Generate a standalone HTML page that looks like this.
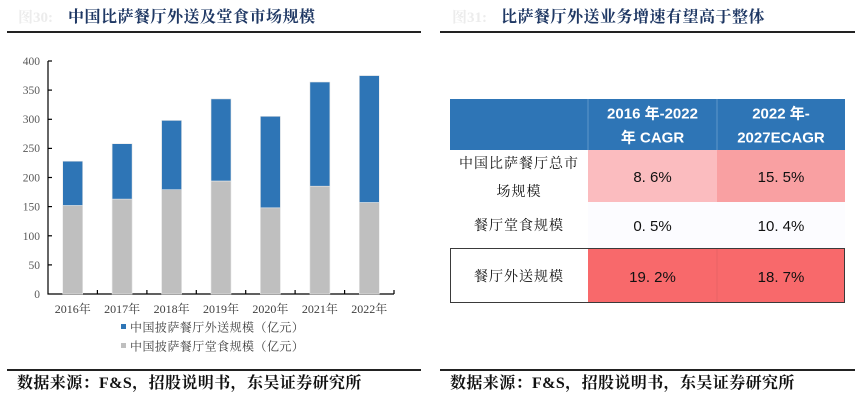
<!DOCTYPE html>
<html><head><meta charset="utf-8"><style>
html,body{margin:0;padding:0;background:#fff;}
svg{display:block;}
.ser{font-family:"Liberation Serif","Noto Serif CJK SC",serif;}
.sans{font-family:"Liberation Sans","Noto Sans CJK SC",sans-serif;}
</style></head><body>
<svg width="866" height="406" viewBox="0 0 866 406" xmlns="http://www.w3.org/2000/svg">
<!-- Left title -->
<text x="18" y="22" class="ser" font-size="15" fill="#ececec" font-weight="bold">图30:</text>
<text x="68" y="22" class="ser" font-size="16" fill="#1f3864" font-weight="bold" letter-spacing="0.5">中国比萨餐厅外送及堂食市场规模</text>
<rect x="7" y="31" width="414" height="2" fill="#222"/>
<!-- Right title -->
<text x="452" y="22" class="ser" font-size="15" fill="#ececec" font-weight="bold">图31:</text>
<text x="501" y="22" class="ser" font-size="16" fill="#1f3864" font-weight="bold" letter-spacing="0.5">比萨餐厅外送业务增速有望高于整体</text>
<rect x="440" y="31" width="415" height="2" fill="#222"/>

<!-- Left chart axes -->
<g stroke="#000" stroke-width="1.2" fill="none">
<line x1="48" y1="61" x2="48" y2="294.5"/>
<line x1="47.5" y1="294" x2="394" y2="294"/>
<line x1="48" y1="61" x2="52" y2="61"/>
<line x1="48" y1="90.1" x2="52" y2="90.1"/>
<line x1="48" y1="119.3" x2="52" y2="119.3"/>
<line x1="48" y1="148.4" x2="52" y2="148.4"/>
<line x1="48" y1="177.5" x2="52" y2="177.5"/>
<line x1="48" y1="206.6" x2="52" y2="206.6"/>
<line x1="48" y1="235.8" x2="52" y2="235.8"/>
<line x1="48" y1="264.9" x2="52" y2="264.9"/>
<line x1="97.4" y1="294" x2="97.4" y2="290"/>
<line x1="146.9" y1="294" x2="146.9" y2="290"/>
<line x1="196.3" y1="294" x2="196.3" y2="290"/>
<line x1="245.7" y1="294" x2="245.7" y2="290"/>
<line x1="295.1" y1="294" x2="295.1" y2="290"/>
<line x1="344.6" y1="294" x2="344.6" y2="290"/>
<line x1="394" y1="294" x2="394" y2="290"/>
</g>
<g class="ser" font-size="11.5" fill="#595959" text-anchor="end">
<text x="40" y="65">400</text>
<text x="40" y="94">350</text>
<text x="40" y="123">300</text>
<text x="40" y="152">250</text>
<text x="40" y="181.5">200</text>
<text x="40" y="210.5">150</text>
<text x="40" y="240">100</text>
<text x="40" y="269">50</text>
<text x="40" y="298">0</text>
</g>
<!-- bars -->
<g stroke="#e8e8e8" stroke-width="0.6">
<rect x="62.7" y="205.5" width="20" height="88.5" fill="#bfbfbf"/>
<rect x="62.7" y="161.2" width="20" height="44.3" fill="#2e75b6"/>
<rect x="112.1" y="199.1" width="20" height="94.9" fill="#bfbfbf"/>
<rect x="112.1" y="143.7" width="20" height="55.4" fill="#2e75b6"/>
<rect x="161.6" y="189.7" width="20" height="104.3" fill="#bfbfbf"/>
<rect x="161.6" y="120.4" width="20" height="69.3" fill="#2e75b6"/>
<rect x="211" y="181" width="20" height="113" fill="#bfbfbf"/>
<rect x="211" y="98.9" width="20" height="82.1" fill="#2e75b6"/>
<rect x="260.4" y="207.8" width="20" height="86.2" fill="#bfbfbf"/>
<rect x="260.4" y="116.3" width="20" height="91.5" fill="#2e75b6"/>
<rect x="309.9" y="186.2" width="20" height="107.8" fill="#bfbfbf"/>
<rect x="309.9" y="82" width="20" height="104.2" fill="#2e75b6"/>
<rect x="359.3" y="202.5" width="20" height="91.5" fill="#bfbfbf"/>
<rect x="359.3" y="75.6" width="20" height="126.9" fill="#2e75b6"/>
</g>
<g class="ser" font-size="12" fill="#404040" text-anchor="middle">
<text x="72.7" y="313">2016年</text>
<text x="122.1" y="313">2017年</text>
<text x="171.6" y="313">2018年</text>
<text x="221" y="313">2019年</text>
<text x="270.4" y="313">2020年</text>
<text x="319.9" y="313">2021年</text>
<text x="369.3" y="313">2022年</text>
</g>
<!-- legend -->
<rect x="121" y="324" width="5" height="5" fill="#2e75b6"/>
<text x="130" y="331.5" class="ser" font-size="12" fill="#404040" letter-spacing="0.45">中国披萨餐厅外送规模（亿元）</text>
<rect x="121" y="343" width="5" height="5" fill="#bfbfbf"/>
<text x="130" y="350.5" class="ser" font-size="12" fill="#404040" letter-spacing="0.45">中国披萨餐厅堂食规模（亿元）</text>

<!-- bottom lines + sources -->
<rect x="7" y="369" width="414" height="2" fill="#222"/>
<rect x="440" y="369" width="415" height="2" fill="#222"/>
<text x="17" y="388" class="ser" font-size="16" fill="#111" font-weight="bold" letter-spacing="0.4">数据来源：F&amp;S，招股说明书，东吴证券研究所</text>
<text x="450" y="388" class="ser" font-size="16" fill="#111" font-weight="bold" letter-spacing="0.4">数据来源：F&amp;S，招股说明书，东吴证券研究所</text>

<!-- Table -->
<rect x="450" y="99" width="395" height="51" fill="#2e75b6"/>
<line x1="588" y1="99" x2="588" y2="150" stroke="#6a9fd0" stroke-width="0.8"/>
<line x1="717" y1="99" x2="717" y2="150" stroke="#6a9fd0" stroke-width="0.8"/>
<g class="sans" font-size="15" fill="#fff" font-weight="bold" text-anchor="middle">
<text x="652.5" y="118.5">2016 年-2022</text>
<text x="652.5" y="142.5">年 CAGR</text>
<text x="781" y="118.5">2022 年-</text>
<text x="781" y="142.5">2027ECAGR</text>
</g>
<!-- row1 -->
<rect x="450" y="150" width="138" height="52" fill="#ffffff"/>
<rect x="588" y="150" width="129" height="52" fill="#fbbcbf"/>
<rect x="717" y="150" width="128" height="52" fill="#f9a0a2"/>
<!-- row2 -->
<rect x="588" y="202" width="257" height="46" fill="#fcfcff"/>
<!-- row3 -->
<rect x="588" y="248" width="257" height="55" fill="#f8696b"/>
<rect x="450.5" y="248.5" width="394" height="54" fill="none" stroke="#3a3a3a" stroke-width="1"/>
<line x1="717" y1="249" x2="717" y2="302" stroke="#e06063" stroke-width="0.6"/>
<g class="ser" font-size="14" fill="#111" text-anchor="middle" letter-spacing="1">
<text x="519" y="168">中国比萨餐厅总市</text>
<text x="519" y="196">场规模</text>
<text x="519" y="230">餐厅堂食规模</text>
<text x="519" y="281">餐厅外送规模</text>
</g>
<g class="sans" font-size="15" fill="#111" text-anchor="middle">
<text x="652.5" y="182">8. 6%</text>
<text x="781" y="182">15. 5%</text>
<text x="652.5" y="231">0. 5%</text>
<text x="781" y="231">10. 4%</text>
<text x="652.5" y="282">19. 2%</text>
<text x="781" y="282">18. 7%</text>
</g>
</svg>
</body></html>
